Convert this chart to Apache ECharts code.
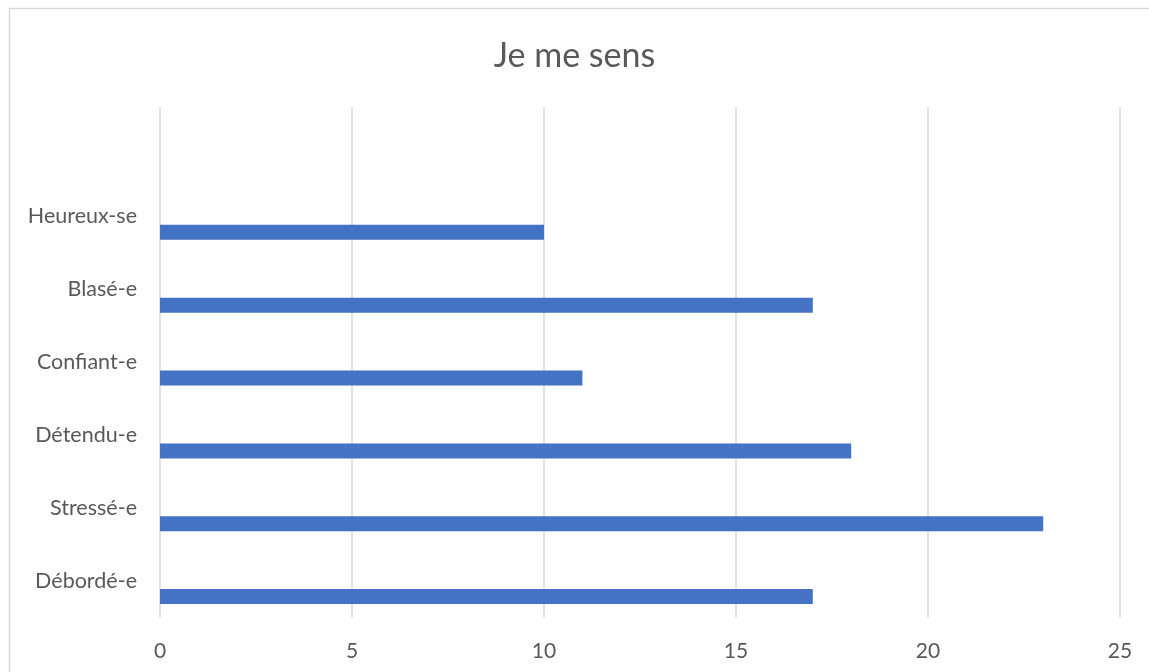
<!DOCTYPE html>
<html>
<head>
<meta charset="utf-8">
<script src="https://cdn.jsdelivr.net/npm/echarts@6/dist/echarts.min.js"></script>
<style>
html,body{margin:0;padding:0;background:#fff;}
#chart{width:1149px;height:672px;}
</style>
</head>
<body>
<div id="chart"></div>
<script>
const categories = ['Débordé-e', 'Stressé-e', 'Détendu-e', 'Confiant-e', 'Blasé-e', 'Heureux-se', ''];
const values = [17, 23, 18, 11, 17, 10, null];
const emptyA = [null, null, null, null, null, null, null];
const emptyB = [null, null, null, null, null, null, null];
const xTicks = [0, 5, 10, 15, 20, 25];

const chart = echarts.init(document.getElementById('chart'), null, {renderer: 'canvas'});
const font = 'Lato, "Open Sans", sans-serif';
chart.setOption({
  animation: false,
  backgroundColor: '#fff',
  title: {
    text: 'Je me sens',
    left: 'center',
    top: 31,
    textStyle: {fontFamily: font, fontSize: 34, fontWeight: 'normal', color: '#595959', lineHeight: 40}
  },
  graphic: [{
    type: 'rect',
    shape: {x: 9.5, y: 8.5, width: 1300, height: 800},
    style: {fill: 'none', stroke: '#d9d9d9', lineWidth: 1.5},
    silent: true, z: -1
  }],
  grid: {left: 160, right: 29, top: 107, bottom: 55, containLabel: false},
  xAxis: {
    type: 'value',
    min: xTicks[0],
    max: xTicks[xTicks.length - 1],
    interval: 5,
    axisLine: {show: false},
    axisTick: {show: false},
    axisLabel: {fontFamily: font, fontSize: 21, color: '#595959', margin: 24},
    splitLine: {show: true, lineStyle: {color: '#d9d9d9', width: 1.5}}
  },
  yAxis: {
    type: 'category',
    data: categories,
    axisLine: {show: false},
    axisTick: {show: false},
    axisLabel: {fontFamily: font, fontSize: 21.5, color: '#595959', margin: 23},
    splitLine: {show: false}
  },
  series: [
    {type: 'bar', data: emptyA, barWidth: 15, barGap: '7%', itemStyle: {color: '#ED7D31'}},
    {type: 'bar', data: emptyB, barWidth: 15, barGap: '7%', itemStyle: {color: '#A5A5A5'}},
    {type: 'bar', data: values, barWidth: 15, barGap: '7%', itemStyle: {color: '#4472C4'}}
  ]
});
</script>
</body>
</html>
